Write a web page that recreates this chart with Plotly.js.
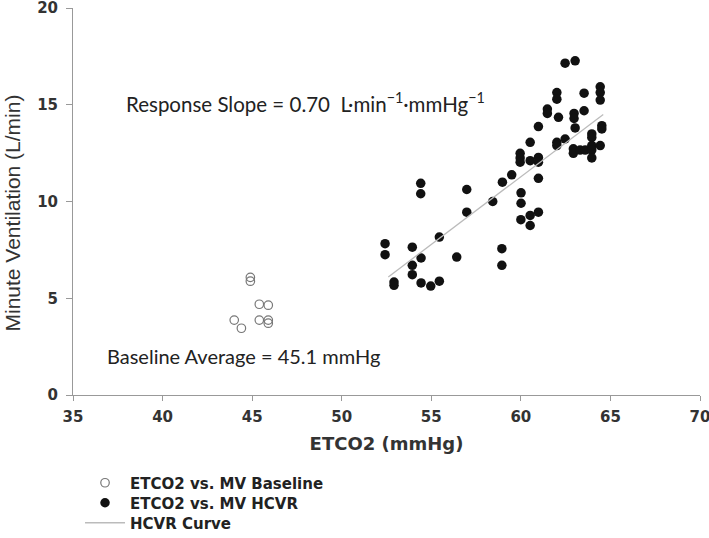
<!DOCTYPE html>
<html>
<head>
<meta charset="utf-8">
<script src="https://cdn.plot.ly/plotly-3.0.1.min.js"></script>
<style>html,body{margin:0;padding:0;background:#fff;}#chart{width:709px;height:538px;}</style>
</head>
<body>
<div id="chart"></div>
<script>
// Baseline (open circles)
const baselineX = [44.0, 44.4, 44.9, 44.9, 45.4, 45.9, 45.4, 45.9, 45.9];
const baselineY = [3.87, 3.45, 6.08, 5.88, 4.69, 4.64, 3.87, 3.87, 3.71];

// HCVR (filled circles)
const hcvrX = [52.42, 52.42, 52.92, 52.92, 53.94, 53.94, 53.94, 54.43, 54.43, 54.97,
  55.45, 55.45, 56.42, 54.41, 54.41, 56.98, 56.98, 58.43, 58.94, 58.94,
  58.97, 59.49, 60.01, 60.01, 60.00, 60.52, 60.98, 60.52, 60.98, 59.96,
  59.96, 59.96, 60.52, 60.98, 60.98, 60.52, 60.98, 62.01, 62.01, 62.47,
  63.03, 62.93, 62.93, 63.31, 63.59, 63.96, 64.43, 63.96, 63.96, 63.96,
  63.96, 64.52, 64.52, 61.48, 61.48, 62.10, 62.97, 62.97, 63.53, 62.01,
  62.01, 63.53, 64.43, 64.43, 64.43, 62.47, 63.03];
const hcvrY = [7.82, 7.25, 5.84, 5.67, 7.64, 6.70, 6.22, 7.08, 5.79, 5.63,
  5.88, 8.16, 7.13, 10.94, 10.40, 10.62, 9.45, 10.00, 7.56, 6.70,
  11.00, 11.38, 10.45, 9.91, 9.06, 9.28, 9.45, 8.76, 11.20, 12.49,
  12.25, 12.03, 12.11, 12.28, 12.03, 13.06, 13.87, 13.06, 12.89, 13.23,
  13.80, 12.72, 12.49, 12.66, 12.66, 12.89, 12.89, 12.66, 12.25, 13.49,
  13.31, 13.92, 13.75, 14.78, 14.55, 14.35, 14.55, 14.29, 14.69, 15.63,
  15.29, 15.60, 15.93, 15.63, 15.24, 17.15, 17.27];

// HCVR fitted curve end points
const curveX = [52.6, 64.6];
const curveY = [6.1, 14.5];

const seriesNames = ["ETCO2 vs. MV Baseline", "ETCO2 vs. MV HCVR", "HCVR Curve"];
const xTicks = [35, 40, 45, 50, 55, 60, 65, 70];
const yTicks = [0, 5, 10, 15, 20];
const xTitle = "ETCO2 (mmHg)";
const yTitle = "Minute Ventilation (L/min)";
const slopeText = "Response Slope = 0.70  L·min<sup>−1</sup>·mmHg<sup>−1</sup>";
const baselineText = "Baseline Average = 45.1 mmHg";

const tickFont = {family: "DejaVu Sans, sans-serif", size: 15, color: "#333", weight: 700};
const legFont = {family: "DejaVu Sans, sans-serif", size: 15, color: "#222", weight: 700};
function leg(y) {
  return {x: 0.0112, y: y, xanchor: "left", yanchor: "middle", xref: "paper", yref: "paper",
    font: legFont, itemwidth: 40, bgcolor: "rgba(0,0,0,0)", borderwidth: 0};
}

const traces = [
  {x: baselineX, y: baselineY, type: "scatter", mode: "markers", name: seriesNames[0], legend: "legend",
   marker: {symbol: "circle-open", size: 8.5, color: "#777", line: {width: 1.2, color: "#777"}}},
  {x: hcvrX, y: hcvrY, type: "scatter", mode: "markers", name: seriesNames[1], legend: "legend2",
   marker: {symbol: "circle", size: 9.5, color: "#111"}},
  {x: curveX, y: curveY, type: "scatter", mode: "lines", name: seriesNames[2], legend: "legend3",
   line: {color: "#bbb", width: 1.3}}
];

const layout = {
  width: 709, height: 538,
  margin: {l: 73, r: 9, t: 8, b: 143, autoexpand: false},
  paper_bgcolor: "#fff", plot_bgcolor: "#fff",
  showlegend: true,
  legend: leg(-0.2274),
  legend2: leg(-0.2791),
  legend3: leg(-0.3307),
  xaxis: {range: [35, 70], tickvals: xTicks, ticktext: xTicks.map(String),
    showgrid: false, zeroline: false, showline: true, linecolor: "#999", linewidth: 1,
    ticks: "outside", ticklen: 5, tickcolor: "#999", tickfont: tickFont, ticklabelstandoff: 3,
    ticklabeloverflow: "allow", automargin: false,
    title: {text: xTitle, standoff: 12,
      font: {family: "DejaVu Sans, sans-serif", size: 18, color: "#333", weight: 700}}},
  yaxis: {range: [0, 20], tickvals: yTicks, ticktext: yTicks.map(String),
    showgrid: false, zeroline: false, showline: true, linecolor: "#999", linewidth: 1,
    ticks: "outside", ticklen: 6, tickcolor: "#999", tickfont: tickFont, ticklabelstandoff: 5,
    ticklabeloverflow: "allow", automargin: false},
  annotations: [
    {x: -0.0957, y: 9.43, xref: "paper", yref: "y", xanchor: "center", yanchor: "middle", showarrow: false,
     textangle: -90, text: yTitle,
     font: {family: "Liberation Sans, Arial, sans-serif", size: 21, color: "#333"}},
    {x: 37.85, y: 15.1, xref: "x", yref: "y", xanchor: "left", yanchor: "middle", showarrow: false,
     text: slopeText,
     font: {family: "Lato, sans-serif", size: 20.5, color: "#222"}},
    {x: 36.8, y: 2.0, xref: "x", yref: "y", xanchor: "left", yanchor: "middle", showarrow: false,
     text: baselineText,
     font: {family: "Lato, sans-serif", size: 20, color: "#222"}}
  ]
};

Plotly.newPlot("chart", traces, layout, {displayModeBar: false, staticPlot: true});
</script>
</body>
</html>
